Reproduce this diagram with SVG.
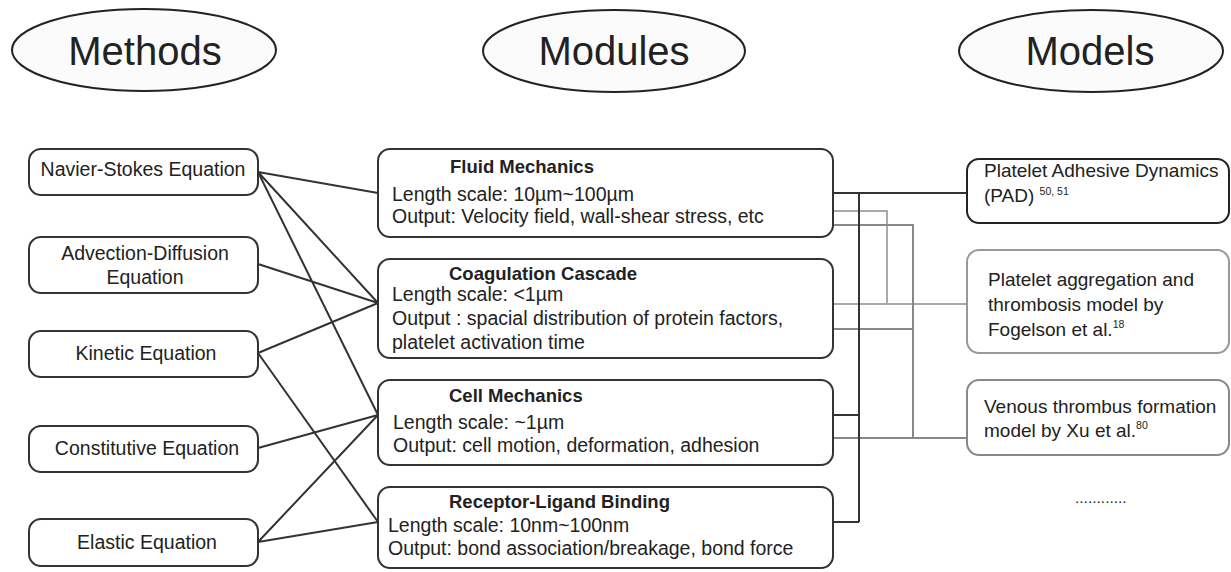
<svg xmlns="http://www.w3.org/2000/svg" width="1231" height="572" viewBox="0 0 1231 572">
<style>
text{font-family:"Liberation Sans",Arial,sans-serif;fill:#222}
.hdr{fill:#fbfbfb;stroke:#222;stroke-width:2}
.ht{font-size:40px;text-anchor:middle}
.box{fill:#fff;stroke:#333;stroke-width:2}
.lt{font-size:19.5px;text-anchor:middle}
.mt{font-size:19.5px}
.tt{font-size:18.5px;font-weight:bold}
.rt{font-size:19px}
.sup{font-size:10.5px}
.k{stroke:#333;stroke-width:2;fill:none}
.g1{stroke:#aaa;stroke-width:2;fill:none}
.g2{stroke:#888;stroke-width:2;fill:none}
</style>
<rect width="1231" height="572" fill="#fff"/>
<g id="hdr-methods"><ellipse class="hdr" cx="144" cy="50" rx="132" ry="41"/><text class="ht" x="145" y="65">Methods</text></g>
<g id="hdr-modules"><ellipse class="hdr" cx="614" cy="51" rx="131" ry="41"/><text class="ht" x="614" y="65">Modules</text></g>
<g id="hdr-models"><ellipse class="hdr" cx="1091" cy="51" rx="132" ry="41"/><text class="ht" x="1090" y="65">Models</text></g>

<g id="connectors">
<path class="k" d="M258 172L378 193M258 172L378 303M258 172L378 415M258 264L378 303M258 353L378 303M258 353L378 522M258 448L378 415M258 542L378 415M258 542L378 522"/>
<path class="g1" d="M833 211H887V304M833 304H967"/>
<path class="g2" d="M833 225H913V438M833 329H913M833 438H967"/>
<path class="k" d="M833 193H967M859 193V522M833 415H859M833 522H859"/>
</g>

<g id="m-navier"><rect class="box" x="29" y="149" width="229" height="46" rx="12"/><text class="lt" x="143" y="176">Navier-Stokes Equation</text></g>
<g id="m-advection"><rect class="box" x="29" y="237" width="229" height="56" rx="12"/><text class="lt" x="145" y="260">Advection-Diffusion</text><text class="lt" x="145" y="284">Equation</text></g>
<g id="m-kinetic"><rect class="box" x="29" y="331" width="229" height="46" rx="12"/><text class="lt" x="146" y="360">Kinetic Equation</text></g>
<g id="m-constitutive"><rect class="box" x="29" y="426" width="229" height="46" rx="12"/><text class="lt" x="147" y="455">Constitutive Equation</text></g>
<g id="m-elastic"><rect class="box" x="29" y="519" width="229" height="47" rx="12"/><text class="lt" x="147" y="549">Elastic Equation</text></g>

<g id="mod-fluid"><rect class="box" x="378" y="149" width="455" height="88" rx="12"/>
<text class="tt" x="450" y="173">Fluid Mechanics</text>
<text class="mt" x="392" y="201">Length scale: 10µm~100µm</text>
<text class="mt" x="392" y="223">Output: Velocity field, wall-shear stress, etc</text></g>
<g id="mod-coag"><rect class="box" x="378" y="259" width="455" height="99" rx="12"/>
<text class="tt" x="449" y="280">Coagulation Cascade</text>
<text class="mt" x="392" y="301">Length scale: &lt;1µm</text>
<text class="mt" x="392" y="325">Output : spacial distribution of protein factors,</text>
<text class="mt" x="392" y="349"> platelet activation time</text></g>
<g id="mod-cell"><rect class="box" x="378" y="380" width="455" height="85" rx="12"/>
<text class="tt" x="449" y="402">Cell Mechanics</text>
<text class="mt" x="393" y="429">Length scale: ~1µm</text>
<text class="mt" x="393" y="452">Output: cell motion, deformation, adhesion</text></g>
<g id="mod-receptor"><rect class="box" x="378" y="487" width="455" height="81" rx="12"/>
<text class="tt" x="449" y="508">Receptor-Ligand Binding</text>
<text class="mt" x="388" y="532">Length scale: 10nm~100nm</text>
<text class="mt" x="388" y="555">Output: bond association/breakage, bond force</text></g>

<g id="model-pad"><rect x="967" y="159" width="262" height="64" rx="12" fill="#fff" stroke="#222" stroke-width="2"/>
<text class="rt" x="984" y="177">Platelet Adhesive Dynamics</text>
<text class="rt" x="984" y="202">(PAD) <tspan class="sup" dy="-7">50, 51</tspan></text></g>
<g id="model-fogelson"><rect x="967" y="250" width="262" height="103" rx="12" fill="#fff" stroke="#999" stroke-width="2"/>
<text class="rt" x="988" y="286">Platelet aggregation and</text>
<text class="rt" x="988" y="311">thrombosis model by</text>
<text class="rt" x="988" y="336">Fogelson et al.<tspan class="sup" dy="-8">18</tspan></text></g>
<g id="model-xu"><rect x="967" y="380" width="262" height="75" rx="12" fill="#fff" stroke="#888" stroke-width="2"/>
<text class="rt" x="984" y="413">Venous thrombus formation</text>
<text class="rt" x="984" y="437">model by Xu et al.<tspan class="sup" dy="-8">80</tspan></text></g>
<g id="model-more"><text x="1075" y="503" style="font-size:15.5px">............</text></g>
</svg>
